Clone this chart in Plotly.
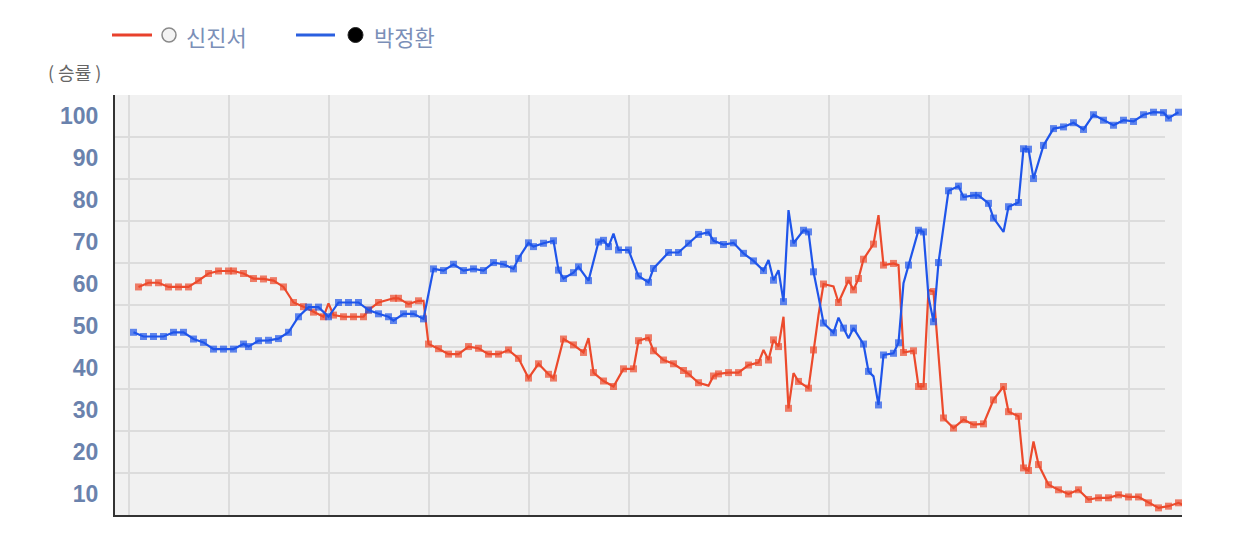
import plotly.graph_objects as go

# 신진서 (white) win rate: points drawn with a marker
shin_moves = [2, 4, 6, 8, 10, 12, 14, 16, 18, 20, 21, 23, 25, 27, 29, 31, 33, 35, 37, 39,
              41, 43, 45, 47, 48, 50, 53, 54, 56, 58, 60, 62, 64, 66, 68, 70, 72, 74, 76, 78,
              80, 82, 84, 85, 87, 89, 91, 93, 95, 97, 99, 101, 102, 104, 105, 107, 109, 111, 112, 114,
              117, 118, 120, 122, 124, 126, 128, 129, 130, 132, 134, 136, 137, 139, 142, 144, 145, 146, 147, 149,
              151, 153, 155, 157, 158, 159, 161, 163, 165, 167, 169, 171, 173, 175, 176, 178, 179, 180, 182, 184,
              186, 188, 190, 192, 194, 196, 198, 200, 202, 204, 206, 208, 210]
shin_rates = [54.3, 55.3, 55.3, 54.3, 54.3, 54.3, 55.8, 57.5, 58.1, 58.1, 58.1, 57.5, 56.3, 56.2, 55.8, 54.3, 50.6, 49.6, 48.3, 47.2,
              47.6, 47.2, 47.2, 47.2, 48.8, 50.6, 51.6, 51.6, 50.2, 51.0, 40.7, 39.6, 38.3, 38.3, 40.1, 39.7, 38.3, 38.3, 39.3, 37.3,
              32.6, 36.0, 33.5, 32.6, 41.9, 40.5, 38.7, 33.9, 31.9, 30.6, 34.8, 34.8, 41.5, 42.2, 39.1, 36.9, 36.0, 34.4, 33.6, 31.5,
              33.1, 33.6, 33.9, 33.9, 35.7, 36.3, 36.9, 41.7, 40.1, 25.4, 31.8, 30.2, 39.3, 55.0, 50.6, 55.9, 53.6, 56.3, 60.9, 64.5,
              59.5, 59.9, 38.7, 39.1, 30.6, 30.6, 53.2, 23.1, 20.7, 22.7, 21.5, 21.7, 27.4, 30.6, 24.6, 23.5, 11.2, 10.6, 12.0, 7.2,
              6.0, 5.0, 6.0, 3.7, 4.1, 4.1, 4.8, 4.3, 4.3, 2.9, 1.7, 2.1, 2.9]
# 신진서: line vertices without a marker (sharp spikes)
shin_peak_moves = [40, 59, 92, 116, 127, 131, 133, 138, 141, 150, 154, 160, 181, 211]
shin_peak_rates = [50.4, 51.0, 42.1, 30.8, 39.3, 47.2, 33.8, 47.6, 54.4, 71.4, 59.5, 53.6, 17.5, 2.3]

# 박정환 (black) win rate: points drawn with a marker
park_moves = [1, 3, 5, 7, 9, 11, 13, 15, 17, 19, 21, 23, 24, 26, 28, 30, 32, 34, 36, 38,
              40, 42, 44, 46, 48, 50, 52, 53, 55, 57, 59, 61, 63, 65, 67, 69, 71, 73, 75, 77,
              78, 80, 81, 83, 85, 86, 87, 89, 90, 92, 94, 95, 96, 98, 100, 102, 104, 105, 108, 110,
              112, 114, 116, 117, 119, 121, 123, 125, 127, 129, 131, 133, 135, 136, 137, 139, 141, 143, 145, 147,
              148, 150, 151, 153, 154, 156, 158, 159, 161, 162, 164, 166, 167, 169, 170, 172, 173, 176, 178, 179,
              180, 181, 183, 185, 187, 189, 191, 193, 195, 197, 199, 201, 203, 205, 207, 208, 210]
park_rates = [43.5, 42.5, 42.5, 42.5, 43.5, 43.5, 41.9, 41.1, 39.5, 39.5, 39.5, 40.7, 40.1, 41.5, 41.6, 42.0, 43.5, 47.2, 49.5, 49.5,
              47.2, 50.6, 50.6, 50.6, 48.8, 47.9, 47.2, 46.3, 47.9, 47.9, 46.7, 58.6, 58.2, 59.7, 58.2, 58.6, 58.2, 60.1, 59.7, 58.6,
              61.1, 64.8, 63.9, 64.7, 65.3, 58.3, 56.3, 57.7, 59.1, 55.8, 65.0, 65.4, 63.9, 63.1, 63.1, 56.9, 55.4, 58.7, 62.5, 62.5,
              64.7, 66.8, 67.3, 65.3, 64.4, 64.8, 62.3, 60.5, 58.2, 55.9, 50.8, 64.7, 67.8, 67.4, 57.9, 45.7, 43.4, 44.5, 44.5, 40.7,
              34.2, 26.2, 38.1, 38.5, 41.0, 59.5, 67.8, 67.4, 46.0, 60.1, 77.2, 78.3, 75.7, 76.1, 76.1, 74.2, 70.7, 73.4, 74.4, 87.2,
              87.1, 80.1, 88.0, 92.0, 92.4, 93.4, 91.8, 95.3, 94.0, 92.8, 94.0, 93.7, 95.3, 95.9, 95.8, 94.5, 95.9]
# 박정환: line vertices without a marker
park_peak_moves = [97, 128, 130, 132, 138, 142, 144, 149, 155, 160, 175]
park_peak_rates = [67.0, 60.7, 58.3, 72.6, 52.0, 47.0, 42.1, 33.0, 55.2, 52.0, 67.4]

y_grid = [10, 20, 30, 40, 50, 60, 70, 80, 90]
y_label_pos = [5, 15, 25, 35, 45, 55, 65, 75, 85, 95]
y_labels = ["10", "20", "30", "40", "50", "60", "70", "80", "90", "100"]

SHIN_COLOR = "#ec4a2c"
PARK_COLOR = "#1f55ea"
GRID = "#dcdcdc"


def merge(moves, rates, peak_moves, peak_rates):
    pts = [(m, r, 7) for m, r in zip(moves, rates)]
    pts += [(m, r, 0) for m, r in zip(peak_moves, peak_rates)]
    pts.sort()
    return [p[0] for p in pts], [p[1] for p in pts], [p[2] for p in pts]


fig = go.Figure()
for name, color, data in [
    ("신진서", SHIN_COLOR, merge(shin_moves, shin_rates, shin_peak_moves, shin_peak_rates)),
    ("박정환", PARK_COLOR, merge(park_moves, park_rates, park_peak_moves, park_peak_rates)),
]:
    xs, ys, sizes = data
    fig.add_trace(go.Scatter(
        x=xs, y=ys, name=name, mode="lines+markers",
        line=dict(color=color, width=2.2),
        marker=dict(symbol="square", size=sizes, color=color, line=dict(width=0)),
        showlegend=False, hoverinfo="skip",
    ))

# page body adds 8px, so the figure is drawn 8px smaller and the margins shifted
OFF = 8
W, H = 1234 - 2 * OFF, 552 - 2 * OFF
# plot area in window pixels: x 115..1182, y 95..515
L, R, T, B = 115, 1182, 95, 515


def px(x):
    return (x - L) / (R - L)


def py(y):
    return (B - y) / (B - T)


# horizontal grid stops a little short of the right edge, as in the original
shapes = [
    dict(type="line", xref="paper", yref="y", x0=0, x1=px(1165), y0=v, y1=v,
         line=dict(color=GRID, width=2), layer="below")
    for v in y_grid
]
shapes += [
    dict(type="line", xref="paper", yref="paper", x0=px(112), x1=px(152), y0=py(35), y1=py(35),
         line=dict(color="#e8412c", width=3)),
    dict(type="circle", xref="paper", yref="paper", x0=px(162), x1=px(176), y0=py(42), y1=py(28),
         fillcolor="#f4f4f4", line=dict(color="#8a8a8a", width=1.5)),
    dict(type="line", xref="paper", yref="paper", x0=px(296), x1=px(335), y0=py(35), y1=py(35),
         line=dict(color="#2a5fe0", width=3)),
    dict(type="circle", xref="paper", yref="paper", x0=px(348), x1=px(363), y0=py(42.5), y1=py(27.5),
         fillcolor="#000000", line=dict(color="#222222", width=1)),
]

legend_font = dict(family="Noto Sans CJK KR", size=22, color="#7b8fb8")
annotations = [
    dict(text="신진서", x=px(184), y=py(36), xref="paper", yref="paper",
         xanchor="left", yanchor="middle", showarrow=False, font=legend_font),
    dict(text="박정환", x=px(372), y=py(36), xref="paper", yref="paper",
         xanchor="left", yanchor="middle", showarrow=False, font=legend_font),
    dict(text="( 승률 )", x=px(46), y=py(72), xref="paper", yref="paper",
         xanchor="left", yanchor="middle", showarrow=False,
         font=dict(family="Noto Sans CJK KR", size=18, color="#666666")),
]

fig.update_layout(
    width=W, height=H,
    margin=dict(l=L - OFF, r=W - (R - OFF), t=T - OFF, b=H - (B - OFF)),
    paper_bgcolor="white", plot_bgcolor="#f1f1f1",
    shapes=shapes, annotations=annotations,
    xaxis=dict(
        range=[-2.7, 210.7], tickvals=list(range(0, 201, 20)), showticklabels=False,
        showgrid=True, gridcolor=GRID, gridwidth=2, zeroline=False,
        showline=True, linecolor="#333333", linewidth=2, ticks="",
    ),
    yaxis=dict(
        range=[0, 100], tickvals=y_label_pos, ticktext=y_labels,
        showgrid=False, zeroline=False, ticks="", ticklabelstandoff=10,
        tickfont=dict(family="Liberation Sans", size=23, color="#6a82ad", weight="bold"),
        showline=True, linecolor="#333333", linewidth=2,
    ),
)

fig.write_html("out.html")
